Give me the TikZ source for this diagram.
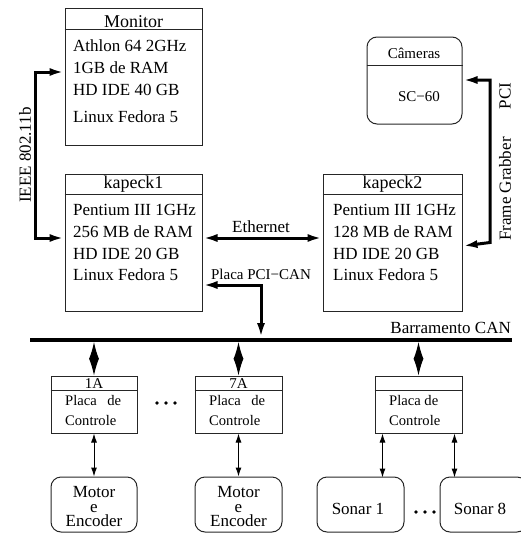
\documentclass[tikz,border=0pt]{standalone}
\usepackage{fontspec}
\setmainfont{Liberation Serif}
\usetikzlibrary{arrows.meta,calc}

\tikzset{
  box/.style={draw=black!85, line width=1pt, inner sep=0pt},
  rbox/.style={box, rounded corners=10pt},
  txt/.style={inner sep=0pt, font=\fontsize{17}{17}\selectfont},
  ttl/.style={inner sep=0pt, font=\fontsize{18}{18}\selectfont},
  sml/.style={inner sep=0pt, font=\fontsize{14.6}{14.6}\selectfont},
  lbl/.style={inner sep=0pt, font=\fontsize{15}{15}\selectfont},
  stack/.style={inner sep=0pt, align=center, font=\fontsize{17}{14.5}\selectfont},
  fatlink/.style={line width=3pt, {Latex[length=15pt,width=8pt]}-{Latex[length=15pt,width=8pt]}},
  kite/.style={line width=1pt, {Latex[length=17pt,width=10pt]}-{Latex[length=17pt,width=10pt]}},
  thinlink/.style={line width=1pt, {Latex[length=9pt,width=6pt]}-{Latex[length=9pt,width=6pt]}},
  divider/.style={draw=black!85, line width=1pt},
}

\begin{document}
\begin{tikzpicture}[x=1pt,y=-1pt]
\useasboundingbox (0,0) rectangle (521,533);
\clip (0,0) rectangle (521,533);

% ---------- computers ----------
\node[box, minimum width=137pt, minimum height=137pt] (monitor) at (133.5,76.5) {};
\draw[divider] ($(monitor.north west)+(0,22)$) -- ($(monitor.north east)+(0,22)$);
\node[ttl] (monitorT) at (133.5,21.5) {Monitor};
\node[txt, anchor=west] (m1) at (73,46) {Athlon 64 2GHz};
\node[txt, anchor=west] (m2) at (73,68) {1GB de RAM};
\node[txt, anchor=west] (m3) at (73,90) {HD IDE 40 GB};
\node[txt, anchor=west] (m4) at (73,117) {Linux Fedora 5};

\node[rbox, minimum width=95pt, minimum height=87pt] (cam) at (414.5,80.5) {};
\draw[divider] ($(cam.north west)+(0,29)$) -- ($(cam.north east)+(0,29)$);
\node[lbl] (camT) at (414,53) {Câmeras};
\node[lbl] (camS) at (419,97) {SC−60};

\node[box, minimum width=137pt, minimum height=137pt] (k1) at (133.5,242.5) {};
\draw[divider] ($(k1.north west)+(0,21)$) -- ($(k1.north east)+(0,21)$);
\node[ttl] (k1T) at (133.5,184) {kapeck1};
\node[txt, anchor=west] (a1) at (73,210) {Pentium III 1GHz};
\node[txt, anchor=west] (a2) at (73,232) {256 MB de RAM};
\node[txt, anchor=west] (a3) at (73,254) {HD IDE 20 GB};
\node[txt, anchor=west] (a4) at (73,275) {Linux Fedora 5};

\node[box, minimum width=139pt, minimum height=137pt] (k2) at (392.5,242.5) {};
\draw[divider] ($(k2.north west)+(0,21)$) -- ($(k2.north east)+(0,21)$);
\node[ttl] (k2T) at (392.5,184) {kapeck2};
\node[txt, anchor=west] (b1) at (333,210) {Pentium III 1GHz};
\node[txt, anchor=west] (b2) at (333,232) {128 MB de RAM};
\node[txt, anchor=west] (b3) at (333,254) {HD IDE 20 GB};
\node[txt, anchor=west] (b4) at (333,275) {Linux Fedora 5};

% ---------- links between computers ----------
\draw[fatlink] ($(k1.west)+(0,-4.5)$) -- ++(-29,0) |- ($(monitor.west)+(0,-4.5)$);
\node[txt, rotate=90] (ieeeT) at (25,155) {IEEE 802.11b};

\draw[fatlink] ($(k1.east)+(0,-4.5)$) -- ($(k2.west)+(0,-4.5)$);
\node[txt] (ethT) at (261,227) {Ethernet};

\coordinate (grab) at (490,0);
\draw[fatlink] ($(cam.east)+(0,-0.5)$) -| (grab |- k2.east) -- ($(k2.east)+(0,3.5)$);
\node[txt, rotate=90] (pciT) at (505,96) {PCI};
\node[txt, rotate=90] (fgT) at (505,189) {Frame Grabber};

% ---------- CAN bus ----------
\coordinate (busL) at (30,340);
\coordinate (busR) at (512,340);
\draw[line width=4pt] (busL) -- (busR);
\node[txt, anchor=south east] (busT) at (511,334) {Barramento CAN};

\coordinate (pcican) at (261,0);
\draw[fatlink] ($(k1.east)+(0,42.5)$) -| ($(pcican |- busL)+(0,-2)$);
\node[lbl] (pcicanT) at (261,274) {Placa PCI−CAN};

% ---------- control boards ----------
\node[box, minimum width=86pt, minimum height=57pt] (p1) at (94,404.5) {};
\node[box, minimum width=87pt, minimum height=57pt] (p7) at (238.5,404.5) {};
\node[box, minimum width=87pt, minimum height=57pt] (ps) at (418.5,404.5) {};
\foreach \p in {p1,p7,ps}{
  \draw[divider] ($(\p.north west)+(0,15)$) -- ($(\p.north east)+(0,15)$);
}
\node[lbl] (p1T) at (94,384) {1A};
\node[lbl] (p7T) at (238.5,384) {7A};
\node[sml, anchor=west] (p1a) at (65,401) {\makebox[56pt][s]{Placa de}};
\node[sml, anchor=west] (p1b) at (65,421) {Controle};
\node[sml, anchor=west] (p7a) at (209,401) {\makebox[56pt][s]{Placa de}};
\node[sml, anchor=west] (p7b) at (209,421) {Controle};
\node[sml, anchor=west] (psa) at (389,401) {Placa de};
\node[sml, anchor=west] (psb) at (389,421) {Controle};

\foreach \p in {p1,p7,ps}{
  \draw[kite] ($(\p.north |- busL)+(0,2)$) -- (\p.north);
}

% ---------- motors and sonars ----------
\node[rbox, minimum width=86pt, minimum height=55pt] (mo1) at (94,504.5) {};
\node[rbox, minimum width=87pt, minimum height=55pt] (mo7) at (238.5,504.5) {};
\node[rbox, minimum width=87pt, minimum height=55pt] (so1) at (360.5,504.5) {};
\node[rbox, minimum width=87pt, minimum height=55pt] (so8) at (483.5,504.5) {};

\node[stack] (mo1T) at (94,507) {Motor\\e\\Encoder};
\node[stack] (mo7T) at (238.5,507) {Motor\\e\\Encoder};
\node[txt] (so1T) at (358,509) {Sonar 1};
\node[txt] (so8T) at (480,509) {Sonar 8};

\draw[thinlink] (p1.south) -- (mo1.north);
\draw[thinlink] (p7.south) -- (mo7.north);
\draw[thinlink] ($(ps.south west)+(8,0)$) -- ($(ps.south west)+(8,44)$);
\draw[thinlink] ($(ps.south east)+(-8,0)$) -- ($(ps.south east)+(-8,44)$);

% ---------- ellipses ----------
\foreach \cx/\cy in {166/403, 425/512}{
  \foreach \d in {-9,0,9}{
    \fill (\cx+\d,\cy) circle (1.8pt);
  }
}
\end{tikzpicture}
\end{document}
